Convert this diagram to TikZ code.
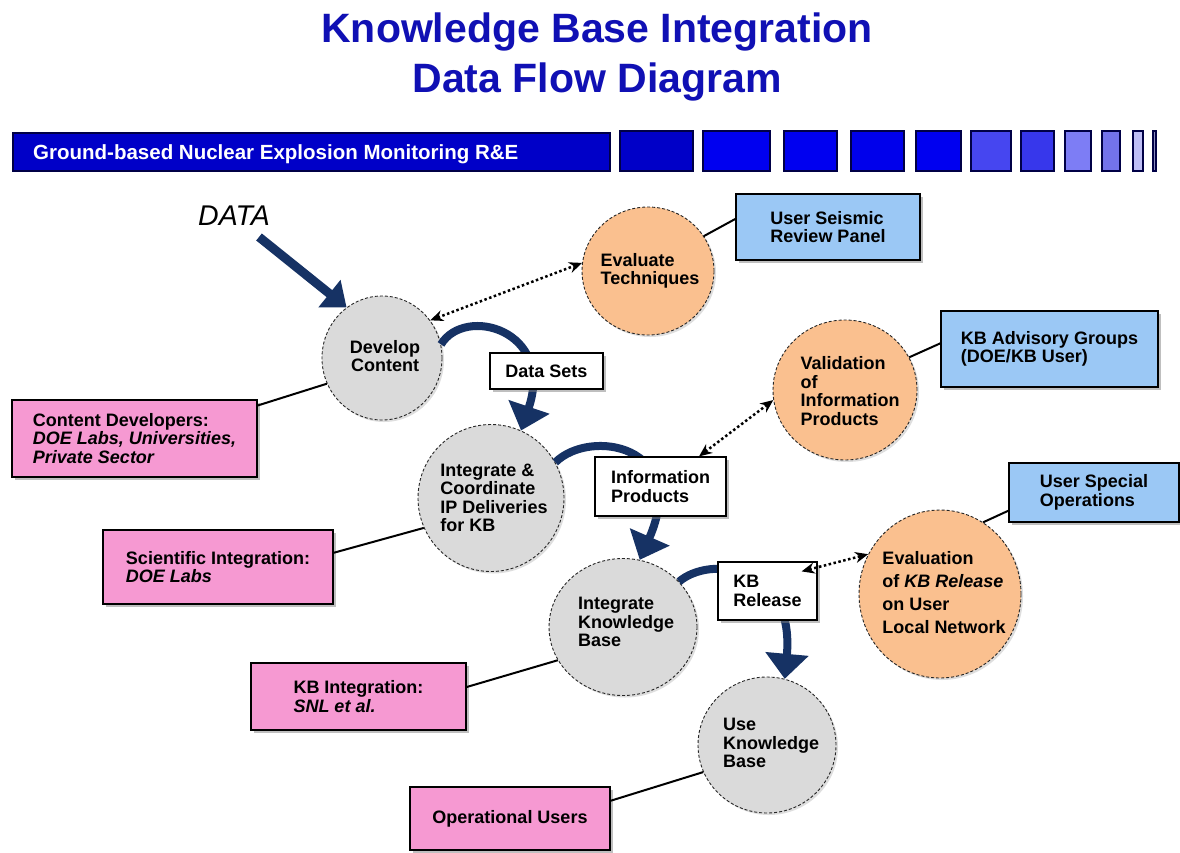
\documentclass[tikz,border=0pt]{standalone}
\usepackage{fontspec}
\setmainfont{Liberation Sans}
\usetikzlibrary{arrows.meta,shadows,shapes.geometric}
\definecolor{titleblue}{RGB}{16,16,180}
\definecolor{barblue}{RGB}{0,0,200}
\definecolor{sqblue}{RGB}{0,0,240}
\definecolor{barline}{RGB}{0,0,70}
\definecolor{pinkbox}{RGB}{246,153,210}
\definecolor{bluebox}{RGB}{155,200,245}
\definecolor{peach}{RGB}{250,192,143}
\definecolor{procgray}{RGB}{218,218,218}
\definecolor{navyc}{RGB}{22,50,100}
\begin{document}
\begin{tikzpicture}[x=1pt,y=-1pt,
  txt/.style={font=\fontsize{18}{18.5}\selectfont\bfseries, align=left, inner sep=0pt},
  proc/.style={ellipse, draw=black!85, line width=0.9pt, densely dashed, inner sep=0pt,
    drop shadow={shadow xshift=2pt, shadow yshift=-2pt, fill=black!25}},
  graybub/.style={proc, fill=procgray},
  peachbub/.style={proc, fill=peach},
  box/.style={draw=black, line width=1.2pt, inner sep=0pt,
    font=\fontsize{18}{18.5}\selectfont\bfseries, align=left,
    drop shadow={shadow xshift=3pt, shadow yshift=-3pt, fill=black!50}},
  pinkb/.style={box, fill=pinkbox},
  blueb/.style={box, fill=bluebox},
  whiteb/.style={box, fill=white},
  conn/.style={draw=black, line width=2pt},
  flow/.style={draw=navyc, line width=8pt, -{Triangle[width=42pt,length=25pt]}},
  dataflow/.style={draw=navyc, line width=9pt, -{Triangle[width=34pt,length=22pt]}},
  dotarrow/.style={draw=black, line width=2.5pt, dash pattern=on 2.5pt off 2.5pt,
    {Stealth[length=13pt,width=11pt]}-{Stealth[length=13pt,width=11pt]}},
  sq/.style={draw=barline, line width=1.4pt}
]
\useasboundingbox (0,0) rectangle (1180,852);
\fill[white] (0,0) rectangle (1180,852);

% Title
\node[anchor=base, text=titleblue, font=\fontsize{41}{48}\selectfont\bfseries, inner sep=0pt]
  (title1) at (597,42) {Knowledge Base Integration};
\node[anchor=base, text=titleblue, font=\fontsize{41}{48}\selectfont\bfseries, inner sep=0pt]
  (title2) at (597,92) {Data Flow Diagram};

% Banner
\draw[sq, fill=barblue] (13,133) rectangle (610,171);
\node[anchor=base west, text=white, font=\fontsize{20.5}{22}\selectfont\bfseries, inner sep=0pt]
  (bannertext) at (33,159) {Ground-based Nuclear Explosion Monitoring R\&E};
\draw[sq, fill=barblue] (620,131) rectangle (693,171);
\draw[sq, fill=sqblue] (703,131) rectangle (770,171);
\draw[sq, fill=sqblue] (784,131) rectangle (837,171);
\draw[sq, fill={rgb,255:red,0;green,0;blue,235}] (851,131) rectangle (904,171);
\draw[sq, fill=sqblue] (916,131) rectangle (961,171);
\draw[sq, fill={rgb,255:red,70;green,70;blue,240}] (971,131) rectangle (1011,171);
\draw[sq, fill={rgb,255:red,55;green,55;blue,235}] (1021,131) rectangle (1054,171);
\draw[sq, fill={rgb,255:red,125;green,125;blue,245}] (1065,131) rectangle (1091,171);
\draw[sq, fill={rgb,255:red,115;green,115;blue,235}] (1102,131) rectangle (1120,171);
\draw[sq, fill={rgb,255:red,190;green,190;blue,245}] (1133,131) rectangle (1143,171);
\draw[sq, fill={rgb,255:red,140;green,140;blue,190}] (1153,131) rectangle (1156,171);

% DATA
\node[anchor=base west, font=\fontsize{28.5}{30}\selectfont\itshape, inner sep=0pt]
  (data) at (198,225) {DATA};
\coordinate (dstart) at (259,237);

% Process bubbles
\node[graybub, minimum width=120pt, minimum height=124pt] (dc) at (382,358) {};
\node[peachbub, minimum width=132pt, minimum height=128pt] (ev) at (648,271) {};
\node[graybub, minimum width=146pt, minimum height=147pt] (ic) at (491,498) {};
\node[peachbub, minimum width=144pt, minimum height=140pt] (va) at (845,390) {};
\node[graybub, minimum width=148pt, minimum height=137pt] (ikb) at (623,627) {};
\node[peachbub, minimum width=162pt, minimum height=168pt] (evl) at (940,594) {};
\node[graybub, minimum width=138pt, minimum height=136pt] (ukb) at (767,745) {};

\node[txt, align=center] (dct) at (385,356) {Develop\\Content};
\node[txt] (evt) at (650,271) {Evaluate\\Techniques};
\node[txt] (ict) at (494,498) {Integrate \&\\Coordinate\\IP Deliveries\\for KB};
\node[txt] (vat) at (850,391) {Validation\\of\\Information\\Products};
\node[txt] (ikbt) at (626,622) {Integrate\\Knowledge\\Base};
\node[txt, font=\fontsize{18}{23}\selectfont\bfseries] (evlt) at (944,593)
  {Evaluation\\of \textit{KB Release}\\on User\\Local Network};
\node[txt] (ukbt) at (771,743) {Use\\Knowledge\\Base};

% Thick flow arrows (behind label boxes)
\draw[dataflow] (dstart) -- (dc.125);
\draw[flow] (dc.13) .. controls (465,305) and (555,330) .. (ic.66);
\draw[flow] (ic.29) .. controls (590,428) and (690,445) .. (ikb.76);
\draw[flow] (ikb.39) .. controls (710,555) and (795,565) .. (ukb.75);

% Flow label boxes
\node[whiteb, minimum width=113pt, minimum height=36pt] (ds) at (546.5,371) {Data Sets};
\node[whiteb, minimum width=131pt, minimum height=59pt] (ip) at (660.5,486.5) {Information\\Products};
\node[whiteb, minimum width=99pt, minimum height=58pt] (kbr) at (767.5,591) {KB\\Release};

% Actor boxes
\node[pinkb, minimum width=245pt, minimum height=77pt] (cd) at (134.5,438.5)
  {Content Developers:\\\textit{DOE Labs, Universities,}\\\textit{Private Sector}};
\node[pinkb, minimum width=230pt, minimum height=74pt] (si) at (218,567)
  {Scientific Integration:\\\textit{DOE Labs}};
\node[pinkb, minimum width=215pt, minimum height=67pt] (kbi) at (358.5,696.5)
  {KB Integration:\\\textit{SNL et al.}};
\node[pinkb, minimum width=200pt, minimum height=63pt] (ou) at (510,818.5)
  {Operational Users};
\node[blueb, minimum width=184pt, minimum height=66pt] (us) at (828,227)
  {User Seismic\\Review Panel};
\node[blueb, minimum width=217pt, minimum height=76pt] (kba) at (1049.5,349)
  {KB Advisory Groups\\(DOE/KB User)};
\node[blueb, minimum width=170pt, minimum height=59pt] (uso) at (1094,492.5)
  {User Special\\Operations};

% Actor connectors
\draw[conn] (cd.15) -- (dc.205);
\draw[conn] (si.7) -- (ic.204);
\draw[conn] (kbi.5) -- (ikb.207);
\draw[conn] (ou.10) -- (ukb.203);
\draw[conn] (ev.32) -- (us.175);
\draw[conn] (va.27) -- (kba.177);
\draw[conn] (evl.59) -- (uso.192);

% Dotted feedback arrows
\draw[dotarrow] (dc.38) -- (ev.173);
\draw[dotarrow] (ip.38) -- (va.188);
\draw[dotarrow] ([xshift=-16pt,yshift=-10pt]kbr.north east) -- (evl.151);
\end{tikzpicture}
\end{document}
